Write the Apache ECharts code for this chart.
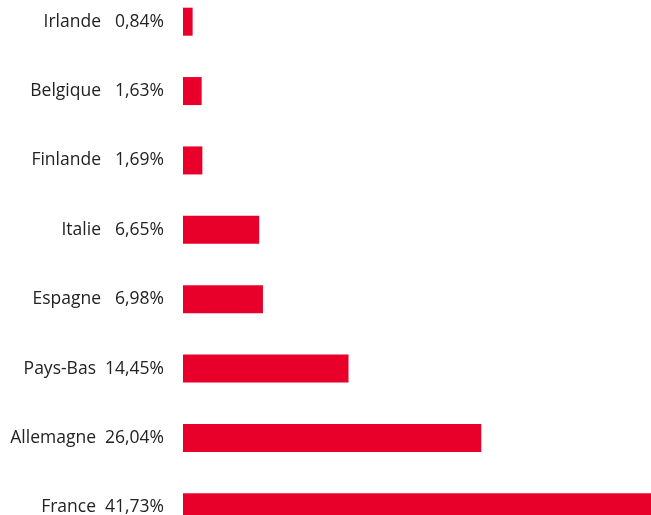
<!DOCTYPE html>
<html><head><meta charset="utf-8">
<script src="https://cdn.jsdelivr.net/npm/echarts@6/dist/echarts.min.js"></script>
<style>html,body{margin:0;padding:0;background:#fff;overflow:hidden;width:651px;height:515px}
#c{position:absolute;left:0;top:-13px;width:661px;height:555px}</style>
</head><body><div id="c"></div>
<script>
const categories = ['Irlande','Belgique','Finlande','Italie','Espagne','Pays-Bas','Allemagne','France'];
const values = [0.84,1.63,1.69,6.65,6.98,14.45,26.04,41.73];
const valueLabels = ['0,84%','1,63%','1,69%','6,65%','6,98%','14,45%','26,04%','41,73%'];

const FONT = 'Open Sans';
const chart = echarts.init(document.getElementById('c'), null, {renderer:'canvas'});
chart.setOption({
  animation:false,
  grid:{left:183, right:0, top:0, bottom:0, containLabel:false},
  xAxis:{type:'value', min:0, max:41.73, show:false, splitLine:{show:false}},
  yAxis:{type:'category', data:categories, inverse:true,
    axisLine:{show:false}, axisTick:{show:false},
    axisLabel:{margin:19, fontFamily:FONT, fontSize:17.5, color:'#222',
      formatter:(v, i)=> '{n|' + v + '}{' + (values[i] < 10 ? 'a' : 'b') + '|' + valueLabels[i] + '}',
      rich:{
        n:{fontFamily:FONT, fontSize:17.5, color:'#222'},
        a:{fontFamily:FONT, fontSize:17.5, color:'#222', padding:[0,0,0,14]},
        b:{fontFamily:FONT, fontSize:17.5, color:'#222', padding:[0,0,0,9]}
      }
    }
  },
  series:[{type:'bar', data:values, barWidth:28, itemStyle:{color:'#e8002a'}, clip:true}]
});
</script></body></html>
